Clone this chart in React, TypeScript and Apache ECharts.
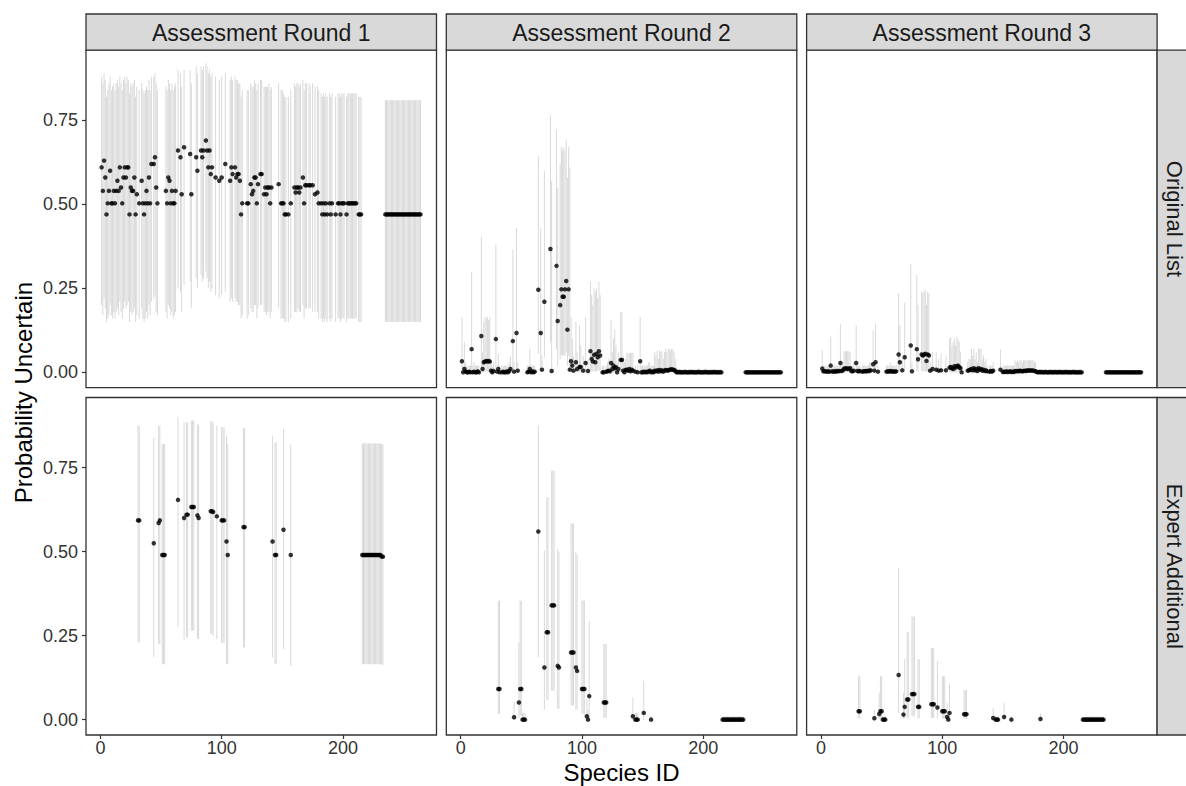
import React, { useEffect, useRef } from 'react';
import * as echarts from 'echarts';

// [species id, estimate, lower, upper]
type Row = [number, number, number, number];

const roundLabels = ['Assessment Round 1', 'Assessment Round 2', 'Assessment Round 3'];
const listLabels = ['Original List', 'Expert Additional'];
const xTicks = [0, 100, 200];
const yTicks = [0, 0.25, 0.5, 0.75];
const xTitle = 'Species ID';
const yTitle = 'Probability Uncertain';

const round1Original: Row[] = [
  [1,0.61,0.20,0.88],[2,0.54,0.17,0.86],[3,0.63,0.22,0.89],[4,0.58,0.19,0.87],[5,0.47,0.15,0.82],
  [6,0.503,0.16,0.84],[7,0.54,0.17,0.86],[8,0.60,0.20,0.88],[9,0.503,0.17,0.84],[10,0.503,0.16,0.85],
  [11,0.54,0.18,0.86],[12,0.503,0.16,0.84],[13,0.54,0.18,0.86],[14,0.57,0.19,0.87],[15,0.54,0.17,0.85],
  [16,0.61,0.21,0.88],[17,0.55,0.18,0.86],[18,0.503,0.16,0.84],[19,0.58,0.19,0.87],[20,0.61,0.21,0.88],
  [21,0.58,0.19,0.86],[22,0.61,0.20,0.88],[23,0.61,0.21,0.87],[24,0.47,0.15,0.83],[25,0.55,0.18,0.86],
  [26,0.54,0.17,0.85],[27,0.54,0.18,0.86],[28,0.58,0.19,0.87],[29,0.47,0.15,0.82],[30,0.53,0.17,0.85],
  [32,0.503,0.16,0.84],[34,0.57,0.19,0.86],[35,0.503,0.16,0.84],[36,0.47,0.15,0.83],[37,0.503,0.16,0.84],
  [38,0.54,0.18,0.85],[39,0.503,0.16,0.84],[40,0.58,0.20,0.87],[41,0.503,0.17,0.84],[42,0.62,0.21,0.88],
  [44,0.62,0.22,0.88],[45,0.64,0.23,0.89],[46,0.55,0.18,0.86],[47,0.503,0.17,0.84],
  [54,0.54,0.18,0.85],[55,0.503,0.16,0.84],[56,0.58,0.20,0.87],[57,0.57,0.19,0.86],[58,0.503,0.17,0.84],
  [59,0.54,0.18,0.86],[60,0.503,0.16,0.84],[61,0.503,0.17,0.85],[62,0.54,0.18,0.86],[64,0.66,0.25,0.90],
  [66,0.64,0.24,0.89],[67,0.53,0.18,0.85],[69,0.67,0.26,0.90],[74,0.65,0.27,0.90],[75,0.53,0.19,0.86],
  [79,0.64,0.28,0.91],[80,0.60,0.25,0.89],[83,0.66,0.29,0.91],[84,0.64,0.27,0.90],[85,0.66,0.28,0.91],
  [87,0.69,0.30,0.92],[88,0.66,0.28,0.91],[89,0.61,0.25,0.89],[90,0.66,0.27,0.90],[91,0.59,0.24,0.88],
  [92,0.61,0.25,0.89],[95,0.58,0.23,0.88],[98,0.57,0.22,0.87],[100,0.58,0.23,0.88],[103,0.62,0.24,0.89],
  [107,0.57,0.21,0.87],[108,0.61,0.22,0.88],[109,0.59,0.21,0.87],[111,0.61,0.22,0.88],[112,0.58,0.21,0.87],
  [113,0.59,0.21,0.87],[114,0.59,0.20,0.86],[115,0.57,0.20,0.86],[116,0.47,0.16,0.82],[117,0.503,0.17,0.84],
  [121,0.503,0.16,0.84],[122,0.503,0.17,0.84],[124,0.56,0.19,0.86],[125,0.53,0.18,0.85],[126,0.54,0.18,0.85],
  [127,0.58,0.20,0.87],[128,0.58,0.20,0.86],[129,0.503,0.16,0.84],[130,0.56,0.19,0.86],[132,0.59,0.20,0.87],
  [133,0.59,0.20,0.87],[135,0.53,0.18,0.85],[136,0.55,0.18,0.85],[137,0.53,0.17,0.85],[138,0.55,0.18,0.85],
  [139,0.55,0.18,0.86],[140,0.503,0.16,0.84],[141,0.55,0.18,0.85],[147,0.56,0.19,0.86],[149,0.503,0.16,0.84],
  [150,0.503,0.16,0.84],[151,0.503,0.16,0.83],[152,0.47,0.15,0.82],[153,0.47,0.15,0.82],[155,0.47,0.15,0.82],
  [157,0.503,0.16,0.84],[160,0.55,0.18,0.86],[161,0.535,0.18,0.85],[162,0.55,0.18,0.86],[163,0.55,0.19,0.86],
  [164,0.535,0.18,0.85],[165,0.55,0.18,0.86],[167,0.58,0.20,0.87],[168,0.503,0.16,0.84],[169,0.557,0.19,0.86],
  [170,0.557,0.19,0.86],[172,0.557,0.19,0.86],[173,0.557,0.19,0.85],[175,0.557,0.18,0.86],[177,0.53,0.18,0.85],
  [179,0.535,0.18,0.85],[180,0.503,0.16,0.84],
  [182,0.503,0.16,0.83],[183,0.47,0.15,0.82],[184,0.503,0.16,0.83],[185,0.47,0.15,0.82],[186,0.503,0.16,0.83],
  [187,0.47,0.15,0.82],[189,0.503,0.16,0.83],[190,0.47,0.15,0.82],[191,0.503,0.16,0.83],[194,0.47,0.15,0.82],
  [196,0.503,0.16,0.83],[197,0.503,0.16,0.83],[198,0.47,0.15,0.82],[199,0.503,0.16,0.83],[200,0.503,0.16,0.83],
  [201,0.503,0.16,0.83],[203,0.47,0.15,0.82],[204,0.503,0.16,0.83],[205,0.503,0.16,0.83],[206,0.503,0.16,0.83],
  [207,0.503,0.16,0.83],[208,0.503,0.16,0.83],[209,0.503,0.16,0.83],[210,0.503,0.16,0.83],[211,0.503,0.16,0.83],
  [213,0.47,0.15,0.82],[214,0.47,0.15,0.82],[215,0.47,0.15,0.82],
  [235,0.47,0.15,0.81],[236,0.47,0.15,0.81],[237,0.47,0.15,0.81],[238,0.47,0.15,0.81],[239,0.47,0.15,0.81],
  [240,0.47,0.15,0.81],[241,0.47,0.15,0.81],[242,0.47,0.15,0.81],[243,0.47,0.15,0.81],[244,0.47,0.15,0.81],
  [245,0.47,0.15,0.81],[246,0.47,0.15,0.81],[247,0.47,0.15,0.81],[248,0.47,0.15,0.81],[249,0.47,0.15,0.81],
  [250,0.47,0.15,0.81],[251,0.47,0.15,0.81],[252,0.47,0.15,0.81],[253,0.47,0.15,0.81],[254,0.47,0.15,0.81],
  [255,0.47,0.15,0.81],[256,0.47,0.15,0.81],[257,0.47,0.15,0.81],[258,0.47,0.15,0.81],[259,0.47,0.15,0.81],
  [260,0.47,0.15,0.81],[261,0.47,0.15,0.81],[262,0.47,0.15,0.81],[263,0.47,0.15,0.81],[264,0.47,0.15,0.81],
];

const round2Original: Row[] = [
  [1,0.033,0,0.165],[2,0,0,0.02],[3,0.01,0,0.09],[4,0.003,0,0.03],[5,0,0,0.02],[6,0,0,0.02],[7,0.002,0,0.02],
  [8,0,0,0.02],[9,0.069,0.003,0.298],[10,0,0,0.02],[11,0.002,0,0.03],[12,0,0,0.02],[13,0,0,0.02],[14,0.003,0,0.02],
  [15,0,0,0.02],[17,0.108,0.005,0.404],[18,0.01,0,0.06],[19,0.03,0.002,0.15],[20,0.032,0.002,0.165],
  [21,0.034,0.002,0.16],[22,0.032,0.002,0.165],[23,0.034,0.002,0.155],[24,0.032,0.002,0.165],[25,0.005,0,0.03],
  [26,0,0,0.02],[27,0.004,0,0.03],[29,0.099,0.004,0.381],[30,0.002,0,0.02],[31,0.01,0,0.056],[32,0,0,0.02],
  [34,0,0,0.02],[35,0.002,0,0.02],[36,0,0,0.02],[37,0,0,0.02],[38,0.003,0,0.02],[39,0,0,0.02],[40,0.004,0,0.03],
  [41,0.01,0,0.05],[43,0.093,0.004,0.366],[44,0.002,0,0.03],[46,0.117,0.006,0.43],[47,0.005,0,0.03],
  [55,0,0,0.02],[56,0.002,0,0.02],[57,0.01,0,0.07],[58,0,0,0.02],[59,0.003,0,0.02],[60,0,0,0.02],[61,0.002,0,0.02],
  [64,0.246,0.055,0.645],[66,0.117,0.006,0.43],[67,0.008,0,0.05],[69,0.21,0.045,0.60],[74,0.367,0.09,0.765],
  [75,0.004,0,0.57],[79,0.317,0.07,0.723],[80,0.153,0.02,0.55],[82,0.2,0.04,0.62],[83,0.247,0.05,0.67],
  [84,0.225,0.05,0.66],[85,0.225,0.05,0.67],[86,0.247,0.05,0.66],[87,0.272,0.06,0.69],[88,0.127,0.02,0.58],
  [89,0.247,0.05,0.67],[90,0.008,0,0.61],[91,0.033,0,0.165],[92,0.02,0,0.1],[93,0.005,0,0.05],[95,0.03,0,0.15],
  [96,0.01,0,0.06],[98,0.016,0,0.14],[99,0.016,0,0.08],[101,0.005,0,0.05],[103,0.028,0,0.165],[105,0.004,0,0.04],
  [107,0.063,0.005,0.27],[108,0.04,0.003,0.23],[109,0.032,0.002,0.2],[110,0.052,0.004,0.25],[111,0.03,0.002,0.24],
  [112,0.055,0.004,0.25],[113,0.045,0.004,0.22],[114,0.063,0.005,0.27],[115,0.05,0.004,0.23],[117,0,0,0.02],
  [118,0,0,0.02],[120,0.002,0,0.02],[121,0.003,0,0.03],[122,0.005,0,0.04],[123,0.003,0,0.03],[124,0.028,0.001,0.155],
  [125,0.01,0,0.06],[126,0.02,0,0.1],[127,0.012,0,0.127],[128,0.015,0,0.08],[129,0,0,0.03],[130,0.01,0,0.06],
  [132,0.037,0.002,0.18],[133,0.037,0.002,0.18],[134,0.005,0,0.05],[135,0,0,0.03],[136,0.007,0,0.04],
  [137,0.008,0,0.058],[138,0.005,0,0.058],[139,0.01,0,0.058],[140,0.003,0,0.058],[141,0.008,0,0.058],
  [142,0.005,0,0.058],[144,0.002,0,0.02],[146,0,0,0.02],[148,0.033,0.001,0.165],[149,0,0,0.02],[150,0,0,0.02],
  [151,0.002,0,0.02],[152,0,0,0.02],[153,0.002,0,0.02],[154,0,0,0.02],[155,0.003,0,0.03],[156,0.005,0,0.03],
  [157,0,0,0.02],[158,0.002,0,0.02],[159,0,0,0.02],[160,0.005,0,0.06],[161,0.003,0,0.05],[162,0.006,0,0.065],
  [163,0.002,0,0.04],[164,0.007,0,0.065],[165,0.003,0,0.06],[166,0.006,0,0.065],[167,0.002,0,0.04],
  [168,0.005,0,0.06],[169,0.007,0,0.07],[170,0.006,0,0.06],[171,0.005,0,0.07],[172,0.008,0,0.07],
  [173,0.008,0,0.065],[174,0.009,0,0.07],[175,0.008,0,0.07],[176,0.007,0,0.06],[177,0.004,0,0.04],
  [178,0,0,0.015],[179,0,0,0.01],[180,0.001,0,0.01],[181,0,0,0.01],[182,0,0,0.01],[183,0,0,0.008],[184,0,0,0.01],
  [185,0.001,0,0.01],[186,0,0,0.01],[187,0,0,0.008],[188,0,0,0.01],[189,0,0,0.01],[190,0.001,0,0.01],
  [191,0,0,0.01],[192,0,0,0.008],[193,0,0,0.01],[194,0,0,0.01],[195,0,0,0.01],[196,0.001,0,0.012],[197,0,0,0.01],
  [198,0,0,0.01],[199,0,0,0.008],[200,0,0,0.01],[201,0,0,0.01],[202,0.001,0,0.012],[203,0,0,0.01],[204,0,0,0.01],
  [205,0,0,0.008],[206,0,0,0.01],[207,0,0,0.01],[208,0,0,0.01],[209,0.001,0,0.01],[210,0,0,0.01],[211,0,0,0.008],
  [212,0,0,0.01],[213,0,0,0.01],[214,0,0,0.01],[215,0,0,0.008],
  [235,0,0,0.004],[236,0,0,0.004],[237,0,0,0.004],[238,0,0,0.004],[239,0,0,0.004],[240,0,0,0.004],
  [241,0,0,0.004],[242,0,0,0.004],[243,0,0,0.004],[244,0,0,0.004],[245,0,0,0.004],[246,0,0,0.004],
  [247,0,0,0.004],[248,0,0,0.004],[249,0,0,0.004],[250,0,0,0.004],[251,0,0,0.004],[252,0,0,0.004],
  [253,0,0,0.004],[254,0,0,0.004],[255,0,0,0.004],[256,0,0,0.004],[257,0,0,0.004],[258,0,0,0.004],
  [259,0,0,0.004],[260,0,0,0.004],[261,0,0,0.004],[262,0,0,0.004],[263,0,0,0.004],[264,0,0,0.004],
];

const round3Original: Row[] = [
  [1,0.011,0,0.066],[2,0.003,0,0.02],[3,0.003,0,0.02],[4,0.003,0,0.02],[5,0.002,0,0.02],[6,0.003,0,0.02],
  [7,0.002,0,0.02],[8,0.02,0.001,0.106],[9,0.003,0,0.02],[10,0.002,0,0.02],[11,0.003,0,0.02],[12,0.002,0,0.02],
  [13,0.004,0,0.02],[14,0.003,0,0.02],[15,0.004,0,0.02],[16,0.028,0.001,0.143],[17,0.004,0,0.02],[18,0.006,0,0.03],
  [19,0.011,0,0.063],[20,0.011,0,0.063],[21,0.012,0,0.063],[22,0.01,0,0.063],[23,0.011,0,0.063],[24,0.012,0,0.06],
  [25,0.004,0,0.02],[26,0.003,0,0.02],[27,0.005,0,0.03],[29,0.028,0.001,0.14],[30,0.004,0,0.02],[31,0.003,0,0.02],
  [32,0.004,0,0.02],[34,0.002,0,0.02],[35,0.003,0,0.02],[36,0.003,0,0.02],[37,0.004,0,0.02],[38,0.003,0,0.02],
  [39,0.005,0,0.02],[40,0.004,0,0.03],[41,0.006,0,0.03],[43,0.024,0.001,0.125],[44,0.005,0,0.03],
  [45,0.03,0.001,0.145],[47,0.002,0,0.02],
  [54,0.002,0,0.02],[55,0.003,0,0.02],[56,0.002,0,0.02],[57,0.004,0,0.03],[58,0.003,0,0.02],[59,0.002,0,0.02],
  [60,0.003,0,0.02],[61,0.002,0,0.02],[62,0.003,0,0.02],[64,0.053,0.003,0.235],[65,0.03,0.001,0.14],
  [67,0.006,0,0.04],[69,0.045,0.002,0.207],[74,0.08,0.005,0.323],[75,0.003,0,0.03],[79,0.069,0.004,0.29],
  [80,0.039,0.002,0.2],[83,0.053,0.003,0.24],[84,0.05,0.003,0.235],[85,0.053,0.003,0.24],[86,0.055,0.003,0.245],
  [87,0.034,0.002,0.2],[88,0.053,0.003,0.24],[89,0.05,0.003,0.235],[90,0.005,0,0.03],[92,0.01,0,0.06],
  [95,0.008,0,0.06],[97,0.005,0,0.04],[99,0.006,0,0.055],[103,0.006,0,0.05],[106,0.014,0,0.1],
  [107,0.016,0,0.105],[108,0.012,0,0.08],[109,0.01,0,0.09],[110,0.018,0,0.1],[111,0.014,0,0.08],
  [112,0.018,0,0.105],[113,0.02,0,0.1],[114,0.015,0,0.09],[115,0.012,0,0.06],[116,0,0,0.02],
  [121,0.005,0,0.03],[122,0.006,0,0.04],[123,0.008,0,0.04],[124,0.01,0,0.07],[125,0.006,0,0.05],
  [126,0.012,0,0.07],[127,0.006,0,0.04],[128,0.01,0,0.06],[129,0.004,0,0.03],[130,0.012,0,0.07],
  [131,0.008,0,0.07],[132,0.01,0,0.07],[133,0.005,0,0.04],[134,0.008,0,0.05],[135,0.004,0,0.03],
  [136,0.006,0,0.04],[137,0.003,0,0.02],[139,0.002,0,0.02],[140,0.004,0,0.02],[141,0.002,0,0.02],
  [142,0.005,0,0.03],[148,0.008,0,0.068],[150,0.001,0,0.02],[151,0.002,0,0.02],[152,0.001,0,0.02],
  [153,0.003,0,0.02],[154,0.001,0,0.02],[155,0.002,0,0.02],[156,0.003,0,0.02],[157,0.001,0,0.02],
  [158,0.002,0,0.02],[159,0.001,0,0.02],[160,0.004,0,0.036],[161,0.003,0,0.03],[162,0.004,0,0.036],
  [163,0.003,0,0.03],[164,0.005,0,0.036],[165,0.004,0,0.036],[166,0.003,0,0.03],[167,0.004,0,0.036],
  [168,0.005,0,0.036],[169,0.004,0,0.036],[170,0.006,0,0.036],[171,0.005,0,0.036],[172,0.006,0,0.036],
  [173,0.005,0,0.036],[174,0.006,0,0.036],[175,0.005,0,0.036],[176,0.004,0,0.03],[177,0.003,0,0.03],
  [178,0.001,0,0.01],[179,0,0,0.01],[180,0.001,0,0.01],[181,0,0,0.01],[182,0.001,0,0.01],[183,0,0,0.008],
  [184,0,0,0.01],[185,0.001,0,0.01],[186,0,0,0.01],[187,0,0,0.008],[188,0,0,0.01],[189,0.001,0,0.01],
  [190,0,0,0.01],[191,0,0,0.01],[192,0,0,0.008],[193,0.001,0,0.01],[194,0,0,0.01],[195,0,0,0.01],
  [196,0,0,0.01],[197,0.001,0,0.01],[198,0,0,0.01],[199,0,0,0.008],[200,0,0,0.01],[201,0,0,0.01],
  [202,0.001,0,0.01],[203,0,0,0.01],[204,0,0,0.01],[205,0,0,0.008],[206,0,0,0.01],[207,0,0,0.01],
  [208,0.001,0,0.01],[209,0,0,0.01],[210,0,0,0.01],[211,0,0,0.008],[212,0,0,0.01],[213,0,0,0.01],
  [214,0,0,0.01],[215,0,0,0.008],
  [235,0,0,0.004],[236,0,0,0.004],[237,0,0,0.004],[238,0,0,0.004],[239,0,0,0.004],[240,0,0,0.004],
  [241,0,0,0.004],[242,0,0,0.004],[243,0,0,0.004],[244,0,0,0.004],[245,0,0,0.004],[246,0,0,0.004],
  [247,0,0,0.004],[248,0,0,0.004],[249,0,0,0.004],[250,0,0,0.004],[251,0,0,0.004],[252,0,0,0.004],
  [253,0,0,0.004],[254,0,0,0.004],[255,0,0,0.004],[256,0,0,0.004],[257,0,0,0.004],[258,0,0,0.004],
  [259,0,0,0.004],[260,0,0,0.004],[261,0,0,0.004],[262,0,0,0.004],[263,0,0,0.004],[264,0,0,0.004],
];

const round1Expert: Row[] = [
  [31,0.593,0.23,0.875],[32,0.593,0.23,0.875],[44,0.525,0.185,0.84],[48,0.585,0.225,0.875],[49,0.593,0.225,0.875],
  [51,0.49,0.165,0.82],[52,0.49,0.165,0.82],[53,0.49,0.165,0.82],[64,0.654,0.275,0.90],[69,0.60,0.24,0.885],
  [71,0.61,0.245,0.885],[72,0.61,0.245,0.885],[75,0.633,0.265,0.89],[76,0.633,0.265,0.89],[77,0.633,0.265,0.89],
  [80,0.608,0.24,0.88],[81,0.60,0.24,0.875],[91,0.62,0.255,0.888],[92,0.62,0.255,0.888],[93,0.618,0.25,0.885],
  [96,0.605,0.24,0.875],[100,0.593,0.228,0.87],[101,0.593,0.228,0.87],[102,0.593,0.228,0.87],
  [104,0.53,0.165,0.845],[105,0.49,0.165,0.82],[118,0.573,0.215,0.867],[119,0.573,0.215,0.867],
  [142,0.53,0.185,0.845],[144,0.49,0.165,0.825],[145,0.49,0.165,0.825],[151,0.565,0.21,0.866],
  [157,0.49,0.16,0.82],
  [216,0.49,0.165,0.822],[217,0.49,0.165,0.822],[218,0.49,0.165,0.822],[219,0.49,0.165,0.822],
  [220,0.49,0.165,0.822],[221,0.49,0.165,0.822],[222,0.49,0.165,0.822],[223,0.49,0.165,0.822],
  [224,0.49,0.165,0.822],[225,0.49,0.165,0.822],[226,0.49,0.165,0.822],[227,0.49,0.165,0.822],
  [228,0.49,0.165,0.822],[229,0.49,0.165,0.822],[230,0.49,0.165,0.822],[231,0.49,0.165,0.822],
  [232,0.485,0.163,0.82],[233,0.485,0.163,0.82],
];

const round2Expert: Row[] = [
  [31,0.091,0.017,0.354],[32,0.091,0.017,0.354],[44,0.007,0,0.055],[48,0.051,0.005,0.23],[49,0.091,0.01,0.354],
  [50,0.091,0.01,0.354],[51,0,0,0.02],[52,0,0,0.02],[53,0,0,0.02],[64,0.56,0.186,0.875],[69,0.155,0.03,0.503],
  [71,0.26,0.059,0.662],[72,0.26,0.059,0.662],[75,0.34,0.086,0.741],[76,0.34,0.086,0.741],[77,0.34,0.086,0.741],
  [80,0.16,0.032,0.508],[81,0.155,0.032,0.50],[91,0.20,0.042,0.584],[92,0.20,0.042,0.584],[93,0.20,0.042,0.584],
  [95,0.155,0.03,0.50],[96,0.145,0.03,0.49],[100,0.091,0.017,0.354],[101,0.091,0.017,0.354],
  [102,0.091,0.017,0.354],[104,0.01,0,0.06],[105,0,0,0.03],[106,0.07,0.005,0.294],[118,0.051,0.005,0.225],
  [119,0.051,0.005,0.225],[120,0.051,0.005,0.225],[142,0.01,0,0.066],[144,0,0,0.02],[145,0,0,0.02],
  [146,0,0,0.02],[151,0.02,0,0.116],[157,0,0,0.01],
  [216,0,0,0.01],[217,0,0,0.01],[218,0,0,0.01],[219,0,0,0.01],[220,0,0,0.01],[221,0,0,0.01],[222,0,0,0.01],
  [223,0,0,0.01],[224,0,0,0.01],[225,0,0,0.01],[226,0,0,0.01],[227,0,0,0.01],[228,0,0,0.01],[229,0,0,0.01],
  [230,0,0,0.01],[231,0,0,0.01],[232,0,0,0.01],[233,0,0,0.01],
];

const round3Expert: Row[] = [
  [31,0.025,0.004,0.129],[32,0.025,0.004,0.129],[44,0.004,0,0.03],[48,0.017,0.002,0.08],[49,0.025,0.003,0.129],
  [50,0.025,0.003,0.129],[51,0,0,0.01],[52,0,0,0.01],[53,0,0,0.01],[64,0.133,0.02,0.45],[68,0.015,0.002,0.08],
  [69,0.038,0.004,0.18],[71,0.06,0.005,0.26],[72,0.06,0.005,0.26],[75,0.076,0.01,0.307],[76,0.076,0.01,0.307],
  [77,0.076,0.01,0.307],[80,0.038,0.004,0.18],[81,0.038,0.004,0.18],[91,0.046,0.005,0.213],[92,0.046,0.005,0.213],
  [93,0.046,0.005,0.213],[96,0.036,0.004,0.174],[100,0.025,0.003,0.129],[101,0.025,0.003,0.129],
  [102,0.025,0.003,0.129],[104,0.008,0,0.05],[105,0,0,0.02],[106,0.02,0.001,0.108],[118,0.016,0.002,0.088],
  [119,0.016,0.002,0.088],[120,0.016,0.002,0.088],[142,0.005,0,0.035],[144,0,0,0.01],[145,0,0,0.01],
  [146,0,0,0.01],[151,0.008,0,0.049],[157,0,0,0.01],[181,0.002,0,0.019],
  [216,0,0,0.009],[217,0,0,0.009],[218,0,0,0.009],[219,0,0,0.009],[220,0,0,0.009],[221,0,0,0.009],
  [222,0,0,0.009],[223,0,0,0.009],[224,0,0,0.009],[225,0,0,0.009],[226,0,0,0.009],[227,0,0,0.009],
  [228,0,0,0.009],[229,0,0,0.009],[230,0,0,0.009],[231,0,0,0.009],[232,0,0,0.009],[233,0,0,0.009],
];

const panels: Row[][] = [
  round1Original, round2Original, round3Original,
  round1Expert, round2Expert, round3Expert,
];

const FONT = "'Liberation Sans', Arial, Helvetica, sans-serif";

export default function App() {
  const ref = useRef<HTMLDivElement>(null);

  useEffect(() => {
    if (!ref.current) return;
    const chart = echarts.init(ref.current, null, { renderer: 'svg' });

    const colLeft = [86, 446.3, 806.6];
    const panelW = 350.5;
    const rowTop = [50.2, 397.5];
    const panelH = 337.5;
    const xMin = -11.9, xMax = 277.2;
    const yMin = -0.0457, yMax = 0.9587;

    const grids: any[] = [];
    const xAxes: any[] = [];
    const yAxes: any[] = [];
    const series: any[] = [];

    panels.forEach((rows, i) => {
      const r = Math.floor(i / 3);
      const c = i % 3;
      grids.push({
        left: colLeft[c], top: rowTop[r], width: panelW, height: panelH,
        show: true, borderColor: '#333333', borderWidth: 1.3, backgroundColor: '#ffffff',
      });
      xAxes.push({
        gridIndex: i, type: 'value', min: xMin, max: xMax, position: 'bottom',
        axisLine: { show: false, onZero: false }, splitLine: { show: false },
        axisTick: { show: r === 1, length: 4, lineStyle: { color: '#333333', width: 1.2 }, customValues: xTicks },
        axisLabel: { show: r === 1, customValues: xTicks, color: '#333333', fontSize: 18, fontFamily: FONT, margin: 4 },
      });
      yAxes.push({
        gridIndex: i, type: 'value', min: yMin, max: yMax, position: 'left',
        axisLine: { show: false, onZero: false }, splitLine: { show: false },
        axisTick: { show: c === 0, length: 4, lineStyle: { color: '#333333', width: 1.2 }, customValues: yTicks },
        axisLabel: {
          show: c === 0, customValues: yTicks, color: '#333333', fontSize: 18, fontFamily: FONT, margin: 8,
          formatter: (v: number) => v.toFixed(2),
        },
      });
      series.push({
        type: 'custom', xAxisIndex: i, yAxisIndex: i, silent: true, z: 1,
        data: rows.map((d) => [d[0], d[1], d[2], d[3]]),
        encode: { x: 0, y: [2, 3] },
        renderItem: (_p: any, api: any) => {
          const x = api.value(0);
          const a = api.coord([x, api.value(2)]);
          const b = api.coord([x, api.value(3)]);
          return {
            type: 'line',
            shape: { x1: a[0], y1: a[1], x2: b[0], y2: b[1] },
            style: { stroke: '#d9d9d9', lineWidth: 1 },
          };
        },
      });
      series.push({
        type: 'scatter', xAxisIndex: i, yAxisIndex: i, silent: true, z: 2,
        data: rows.map((d) => [d[0], d[1]]),
        symbol: 'circle', symbolSize: 4.5,
        itemStyle: { color: '#000000' },
      });
    });

    const graphics: any[] = [];
    // top strips
    roundLabels.forEach((label, c) => {
      graphics.push({
        type: 'rect', shape: { x: colLeft[c], y: 14, width: panelW, height: 36.2 },
        style: { fill: '#d9d9d9', stroke: '#333333', lineWidth: 1.3 }, z: 10,
      });
      graphics.push({
        type: 'text', x: colLeft[c] + panelW / 2, y: 32.5, z: 11,
        style: { text: label, fill: '#1a1a1a', fontSize: 23, fontFamily: FONT, textAlign: 'center', textVerticalAlign: 'middle' },
      });
    });
    // right strips
    listLabels.forEach((label, r) => {
      graphics.push({
        type: 'rect', shape: { x: colLeft[2] + panelW, y: rowTop[r], width: 40, height: panelH },
        style: { fill: '#d9d9d9', stroke: '#333333', lineWidth: 1.3 }, z: 10,
      });
      graphics.push({
        type: 'text', x: colLeft[2] + panelW + 17.5, y: rowTop[r] + panelH / 2, rotation: -Math.PI / 2, z: 11,
        style: { text: label, fill: '#1a1a1a', fontSize: 22, fontFamily: FONT, textAlign: 'center', textVerticalAlign: 'middle' },
      });
    });
    // axis titles
    graphics.push({
      type: 'text', x: 23, y: (rowTop[0] + rowTop[1] + panelH) / 2, rotation: Math.PI / 2,
      style: { text: yTitle, fill: '#000000', fontSize: 24, fontFamily: FONT, textAlign: 'center', textVerticalAlign: 'middle' },
    });
    graphics.push({
      type: 'text', x: (colLeft[0] + colLeft[2] + panelW) / 2, y: 772,
      style: { text: xTitle, fill: '#000000', fontSize: 24, fontFamily: FONT, textAlign: 'center', textVerticalAlign: 'middle' },
    });

    chart.setOption({
      animation: false,
      backgroundColor: '#ffffff',
      grid: grids,
      xAxis: xAxes,
      yAxis: yAxes,
      series,
      graphic: graphics,
    });

    return () => chart.dispose();
  }, []);

  return (
    <div
      ref={ref}
      style={{ position: 'fixed', left: 0, top: 0, width: 1186, height: 786, background: '#ffffff' }}
    />
  );
}
